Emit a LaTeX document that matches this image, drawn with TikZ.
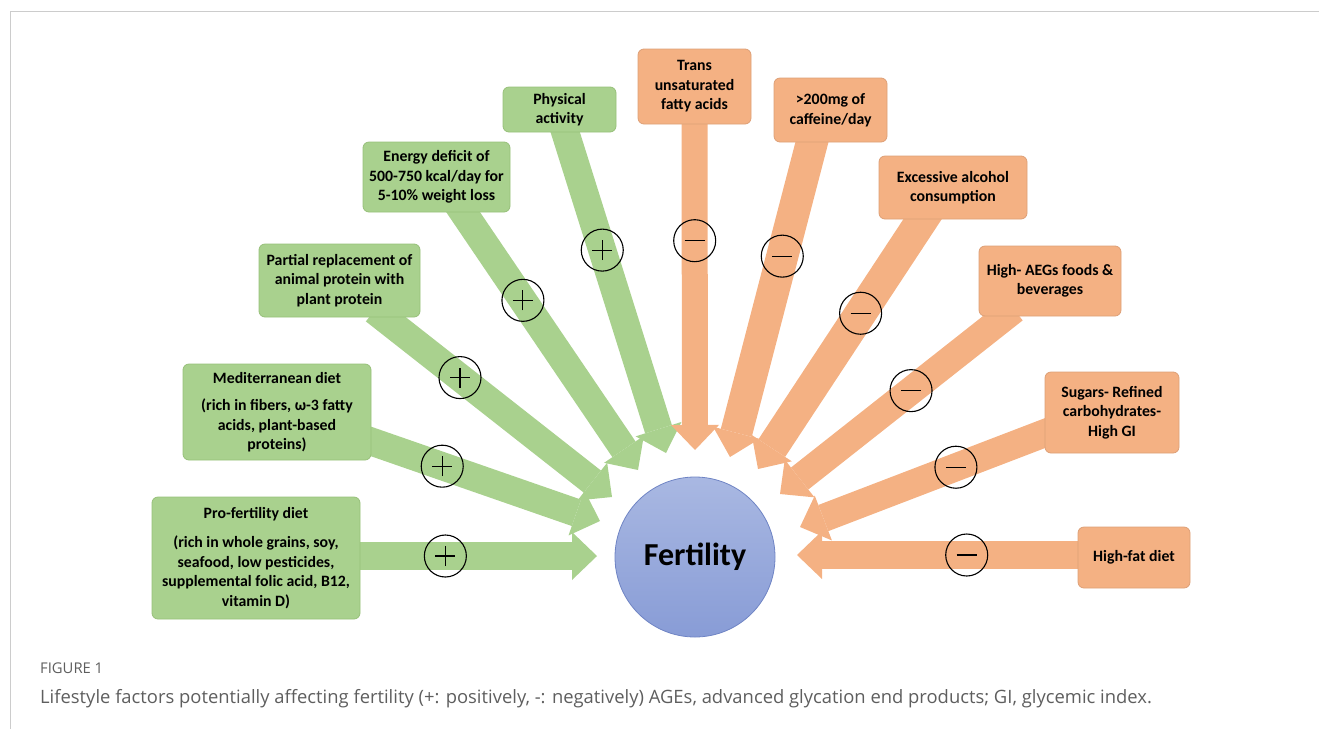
\documentclass[tikz,border=0pt]{standalone}
\usepackage{fontspec}
\setmainfont{Carlito}
\newfontfamily\capfont{Open Sans}
\usetikzlibrary{arrows.meta,backgrounds}
\definecolor{gfill}{HTML}{A9D18E}
\definecolor{gdraw}{HTML}{97C07A}
\definecolor{ofill}{HTML}{F4B183}
\definecolor{odraw}{HTML}{DDA077}
\definecolor{ctop}{HTML}{A9B8E2}
\definecolor{cbot}{HTML}{889CD6}
\definecolor{cdraw}{HTML}{6F84C4}
\definecolor{capgray}{HTML}{5E5E5E}
\definecolor{framec}{HTML}{CCCCCC}
\begin{document}
\begin{tikzpicture}[x=1pt,y=-1pt,
  box/.style={rounded corners=6pt, line width=0.8pt, align=center, inner sep=0pt,
    font=\bfseries\fontsize{15.8}{19.5}\selectfont},
  gbox/.style={box, fill=gfill, draw=gdraw},
  obox/.style={box, fill=ofill, draw=odraw},
  barrow/.style={line width=28pt, -{Triangle[width=48pt,length=25pt,line width=0pt]}},
  garrow/.style={barrow, draw=gfill},
  oarrow/.style={barrow, draw=ofill},
  sign/.style={circle, draw=black, line width=1.1pt, minimum size=42pt, inner sep=0pt},
  psign/.style={sign, path picture={
    \draw[arrows=-, line width=1.1pt]
      ([xshift=-10pt]path picture bounding box.center) -- ([xshift=10pt]path picture bounding box.center)
      ([yshift=-10pt]path picture bounding box.center) -- ([yshift=10pt]path picture bounding box.center);}},
  msign/.style={sign, path picture={
    \draw[arrows=-, line width=1.1pt]
      ([xshift=-10pt]path picture bounding box.center) -- ([xshift=10pt]path picture bounding box.center);}}
]
\useasboundingbox (0,0) rectangle (1319,729);
\draw[framec, line width=1pt] (1319,11) -- (10,11) -- (10,729);

% boxes
\node[gbox, minimum width=208pt, minimum height=122pt] (pro) at (256,558)
  {Pro-fertility diet\\[10pt] (rich in whole grains, soy,\\ seafood, low pesticides,\\ supplemental folic acid, B12,\\ vitamin D)};
\node[gbox, minimum width=188pt, minimum height=96pt] (med) at (277,412)
  {Mediterranean diet\\[8pt] (rich in fibers, ω-3 fatty\\ acids, plant-based\\ proteins)};
\node[gbox, minimum width=161pt, minimum height=73pt] (part) at (339.5,280.5)
  {Partial replacement of\\ animal protein with\\ plant protein};
\node[gbox, minimum width=147pt, minimum height=70pt] (energy) at (436.5,177)
  {Energy deficit of\\ 500-750 kcal/day for\\ 5-10\% weight loss};
\node[gbox, minimum width=113pt, minimum height=45pt] (phys) at (559.5,109.5)
  {Physical\\ activity};
\node[obox, minimum width=113pt, minimum height=75pt] (trans) at (694.5,86.5)
  {Trans\\ unsaturated\\ fatty acids};
\node[obox, minimum width=113pt, minimum height=64pt] (cafe) at (830.5,110)
  {>200mg of\\ caffeine/day};
\node[obox, minimum width=148pt, minimum height=63pt] (alc) at (953,187.5)
  {Excessive alcohol\\ consumption};
\node[obox, minimum width=142pt, minimum height=70pt] (ages) at (1050,281)
  {High- AEGs foods \&\\ beverages};
\node[obox, minimum width=134pt, minimum height=81pt] (sugar) at (1112,412.5)
  {Sugars- Refined\\ carbohydrates-\\ High GI};
\node[obox, minimum width=112pt, minimum height=61pt] (fat) at (1134,557.5)
  {High-fat diet};

% centre
\node[circle, minimum size=160pt, top color=ctop, bottom color=cbot, draw=cdraw,
  line width=0.8pt, font=\bfseries\fontsize{32}{38}\selectfont] (fert) at (695,557) {Fertility};

% tips
\coordinate (tpro) at (597,556);
\coordinate (tmed) at (600,521);
\coordinate (tpart) at (612,497);
\coordinate (tenergy) at (638,470);
\coordinate (tphys) at (666,453);
\coordinate (ttrans) at (695,450);
\coordinate (tcafe) at (730,457);
\coordinate (talc) at (758,469);
\coordinate (tages) at (780,494);
\coordinate (tsugar) at (800,527);
\coordinate (tfat) at (797,555);

\begin{scope}[on background layer]
\draw[garrow] ([shift={(-12,-2)}]pro.east) -- node[psign,pos=.39] (spro) {} (tpro);
\draw[garrow] ([shift={(-16,24)}]med.east) -- node[psign,pos=.355] (smed) {} (tmed);
\draw[garrow] ([shift={(35,-7)}]part.south) -- node[psign,pos=.36] (spart) {} (tpart);
\draw[garrow] ([shift={(20,-10)}]energy.south) -- node[psign,pos=.366] (senergy) {} (tenergy);
\draw[garrow] ([shift={(2,-12)}]phys.south) -- node[psign,pos=.39] (sphys) {} (tphys);
\draw[oarrow, line width=26pt] ([shift={(0,-12)}]trans.south) -- node[msign,pos=.38] (strans) {} (ttrans);
\draw[oarrow, line width=32pt] ([shift={(-15.5,-12)}]cafe.south) -- node[msign,pos=.385] (scafe) {} (tcafe);
\draw[oarrow, line width=32pt] ([shift={(-24,-10)}]alc.south) -- node[msign,pos=.40] (salc) {} (talc);
\draw[oarrow] ([shift={(-36,-7)}]ages.south) -- node[msign,pos=.44] (sages) {} (tages);
\draw[oarrow] ([shift={(11,16.5)}]sugar.west) -- node[msign,pos=.39] (ssugar) {} (tsugar);
\draw[oarrow] ([shift={(12,-2.5)}]fat.west) -- node[msign,pos=.42] (sfat) {} (tfat);
\end{scope}

% caption
\node[anchor=base west, inner sep=0pt, text=capgray, font=\capfont\fontsize{14.8}{17}\selectfont] (fig) at (40,673) {FIGURE 1};
\node[anchor=base west, inner sep=0pt, text=capgray, font=\capfont\fontsize{18.4}{22}\selectfont] (cap) at (40,703)
  {Lifestyle factors potentially affecting fertility (+: positively, -: negatively) AGEs, advanced glycation end products; GI, glycemic index.};
\end{tikzpicture}
\end{document}
